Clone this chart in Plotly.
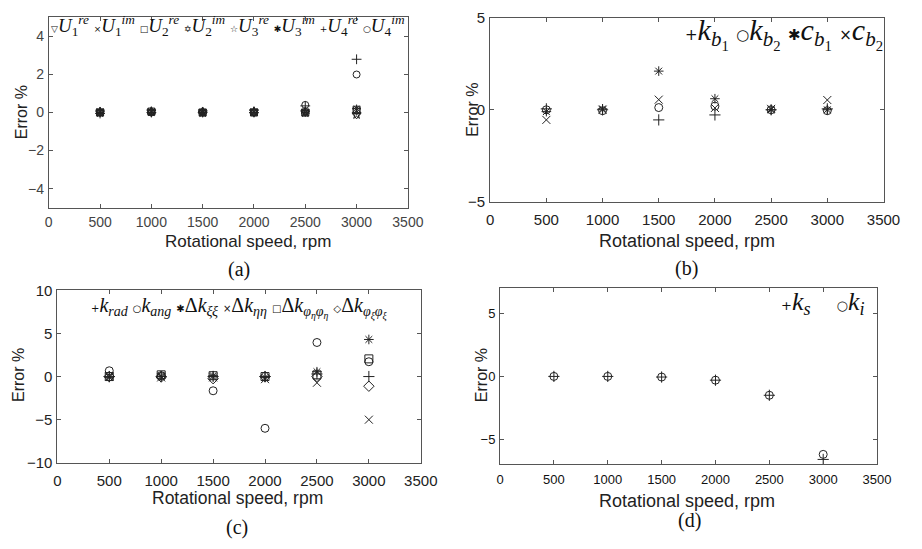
import plotly.graph_objects as go

W, H = 922, 549
speed = [500, 1000, 1500, 2000, 2500, 3000]
x_ticks = [0, 500, 1000, 1500, 2000, 2500, 3000, 3500]
x_title = "Rotational speed, rpm"
y_title = "Error %"

# (a)
a_names = ["<i>U</i><sub>1</sub><sup><i>re</i></sup>", "<i>U</i><sub>1</sub><sup><i>im</i></sup>",
           "<i>U</i><sub>2</sub><sup><i>re</i></sup>", "<i>U</i><sub>2</sub><sup><i>im</i></sup>",
           "<i>U</i><sub>3</sub><sup><i>re</i></sup>", "<i>U</i><sub>3</sub><sup><i>im</i></sup>",
           "<i>U</i><sub>4</sub><sup><i>re</i></sup>", "<i>U</i><sub>4</sub><sup><i>im</i></sup>"]
a_vals = [
    [0.0, 0.0, 0.0, 0.0, 0.0, -0.15],
    [0.05, 0.05, 0.0, 0.05, 0.0, 0.1],
    [0.0, 0.05, 0.0, 0.0, 0.0, 0.15],
    [0.05, 0.05, 0.05, 0.05, 0.05, 0.1],
    [0.0, 0.05, 0.0, 0.05, 0.0, -0.1],
    [0.0, 0.0, 0.0, 0.0, 0.0, 0.2],
    [-0.05, 0.0, 0.0, 0.0, 0.35, 2.8],
    [0.0, 0.0, 0.0, 0.0, 0.4, 2.0],
]
a_symbols = ["triangle-down-open", "x-thin-open", "square-open", "hexagram-open",
             "star-open", "asterisk-open", "cross-thin-open", "circle-open"]
a_glyphs = ["▽", "×", "□", "✡", "☆", "✱", "+", "○"]

# (b)
b_names = ["<i>k</i><sub><i>b</i><sub>1</sub></sub>", "<i>k</i><sub><i>b</i><sub>2</sub></sub>",
           "<i>c</i><sub><i>b</i><sub>1</sub></sub>", "<i>c</i><sub><i>b</i><sub>2</sub></sub>"]
b_vals = [
    [0.05, 0.0, -0.55, -0.28, 0.0, 0.05],
    [0.0, -0.05, 0.12, 0.2, 0.0, -0.05],
    [-0.1, 0.05, 2.1, 0.6, 0.0, 0.0],
    [-0.55, 0.0, 0.55, 0.1, 0.05, 0.53],
]
b_symbols = ["cross-thin-open", "circle-open", "asterisk-open", "x-thin-open"]
b_glyphs = ["+", "○", "✱", "×"]

# (c)
c_names = ["<i>k</i><sub><i>rad</i></sub>", "<i>k</i><sub><i>ang</i></sub>",
           "Δ<i>k</i><sub><i>ξξ</i></sub>", "Δ<i>k</i><sub><i>ηη</i></sub>",
           "Δ<i>k</i><sub><i>φ</i><sub><i>η</i></sub><i>φ</i><sub><i>η</i></sub></sub>",
           "Δ<i>k</i><sub><i>φ</i><sub><i>ξ</i></sub><i>φ</i><sub><i>ξ</i></sub></sub>"]
c_vals = [
    [0.0, 0.0, 0.0, 0.0, 0.3, 0.0],
    [0.67, 0.1, -1.65, -6.0, 3.95, 1.72],
    [-0.1, 0.05, 0.1, -0.1, 0.56, 4.3],
    [0.0, -0.1, -0.1, -0.3, -0.72, -5.0],
    [0.0, 0.2, 0.1, 0.0, 0.2, 2.05],
    [0.0, -0.05, -0.25, 0.0, 0.0, -1.12],
]
c_symbols = ["cross-thin-open", "circle-open", "asterisk-open", "x-thin-open",
             "square-open", "diamond-open"]
c_glyphs = ["+", "○", "✱", "×", "□", "◇"]

# (d)
d_names = ["<i>k</i><sub><i>s</i></sub>", "<i>k</i><sub><i>i</i></sub>"]
d_vals = [
    [0.0, 0.0, -0.05, -0.3, -1.5, -6.6],
    [0.0, 0.0, -0.05, -0.3, -1.5, -6.2],
]
d_symbols = ["cross-thin-open", "circle-open"]
d_glyphs = ["+", "○"]


def px(x):
    return x / W


def py(y):
    return 1 - y / H


panels = [
    dict(xp=(45.8, 413.3), yp=(8.7, 205), yr=[-5, 5], yt=[-4, -2, 0, 2, 4],
         names=a_names, vals=a_vals, sym=a_symbols, gl=a_glyphs, cap="(a)",
         cap_pos=(240, 269), xt_pos=(250, 240), yt_pos=(18, 107), xt_fs=17,
         tick_fs=14, tick_col="#444444", standoff=2,
         leg=(229, 17), lfs=19, sep=" ", msz=7),
    dict(xp=(497.5, 900), yp=(9, 199), yr=[-5, 5], yt=[-5, 0, 5],
         names=b_names, vals=b_vals, sym=b_symbols, gl=b_glyphs, cap="(b)",
         cap_pos=(698, 268), xt_pos=(698.5, 239), yt_pos=(480, 104), xt_fs=18,
         tick_fs=15, tick_col="#222222", standoff=4,
         leg=(798, 25), lfs=30, sep=" ", msz=8),
    dict(xp=(54.6, 426.5), yp=(290.3, 468.3), yr=[-10, 10], yt=[-10, -5, 0, 5, 10],
         names=c_names, vals=c_vals, sym=c_symbols, gl=c_glyphs, cap="(c)",
         cap_pos=(238, 535), xt_pos=(239, 505), yt_pos=(15, 378), xt_fs=17.5,
         tick_fs=15, tick_col="#222222", standoff=4,
         leg=(241, 309), lfs=20, sep=" ", msz=8),
    dict(xp=(507.6, 893.4), yp=(288.3, 470), yr=[-7, 7], yt=[-5, 0, 5],
         names=d_names, vals=d_vals, sym=d_symbols, gl=d_glyphs, cap="(d)",
         cap_pos=(701.7, 528), xt_pos=(699, 508), yt_pos=(488, 378), xt_fs=18,
         tick_fs=13, tick_col="#111111", standoff=3,
         leg=(838, 303), lfs=26, sep="    ", msz=8),
]

fig = go.Figure()
mcolor = "#222222"
sans = "Liberation Sans, Arial"
serif = "Liberation Serif, Times New Roman"

annotations = []
for i, p in enumerate(panels):
    xa = "x" if i == 0 else f"x{i+1}"
    ya = "y" if i == 0 else f"y{i+1}"
    for name, vals, sym in zip(p["names"], p["vals"], p["sym"]):
        fig.add_trace(go.Scatter(
            x=speed, y=vals, mode="markers", name=name, showlegend=False,
            xaxis=xa, yaxis=ya,
            marker=dict(symbol=sym, size=p["msz"], color=mcolor,
                        line=dict(width=1, color=mcolor)),
        ))
    tfont = dict(family=sans, size=p["tick_fs"], color=p["tick_col"])
    ax_common = dict(showline=True, linecolor="#555555", linewidth=1, mirror="ticks",
                     ticks="inside", ticklen=4, tickcolor="#555555", showgrid=False,
                     zeroline=False, tickfont=tfont)
    fig.update_layout({
        ("xaxis" if i == 0 else f"xaxis{i+1}"): dict(
            domain=[px(p["xp"][0]), px(p["xp"][1])], range=[0, 3500], tickvals=x_ticks,
            anchor=ya, ticklabelstandoff=p["standoff"], **ax_common),
        ("yaxis" if i == 0 else f"yaxis{i+1}"): dict(
            domain=[py(p["yp"][1]), py(p["yp"][0])], range=p["yr"], tickvals=p["yt"],
            anchor=xa, ticklabelstandoff=1, **ax_common),
    })
    # axis titles
    annotations.append(dict(
        text=x_title, x=px(p["xt_pos"][0]), y=py(p["xt_pos"][1]), xref="paper", yref="paper",
        xanchor="center", yanchor="middle", showarrow=False,
        font=dict(family=sans, size=p["xt_fs"], color="#222222"),
    ))
    annotations.append(dict(
        text=y_title, x=px(p["yt_pos"][0]), y=py(p["yt_pos"][1]), xref="paper", yref="paper",
        xanchor="center", yanchor="middle", showarrow=False, textangle=-90,
        font=dict(family=sans, size=16, color="#222222"),
    ))
    # legend text
    parts = []
    for g, n in zip(p["gl"], p["names"]):
        parts.append(f"<span style='font-size:{int(p['lfs']*0.5)}px;font-family:DejaVu Sans'>{g}</span>{n}")
    annotations.append(dict(
        text=p["sep"].join(parts),
        x=px(p["leg"][0]), y=py(p["leg"][1]), xref="paper", yref="paper",
        xanchor="center", yanchor="middle", showarrow=False,
        font=dict(family=serif, size=p["lfs"], color="#111111"),
    ))
    # caption
    annotations.append(dict(
        text=p["cap"], x=px(p["cap_pos"][0]), y=py(p["cap_pos"][1]),
        xref="paper", yref="paper", xanchor="center", yanchor="middle", showarrow=False,
        font=dict(family=serif, size=20, color="#111111"),
    ))

fig.update_layout(
    width=W, height=H, margin=dict(l=0, r=0, t=0, b=0),
    paper_bgcolor="white", plot_bgcolor="white", showlegend=False,
    annotations=annotations,
)

fig.write_html("out.html")
